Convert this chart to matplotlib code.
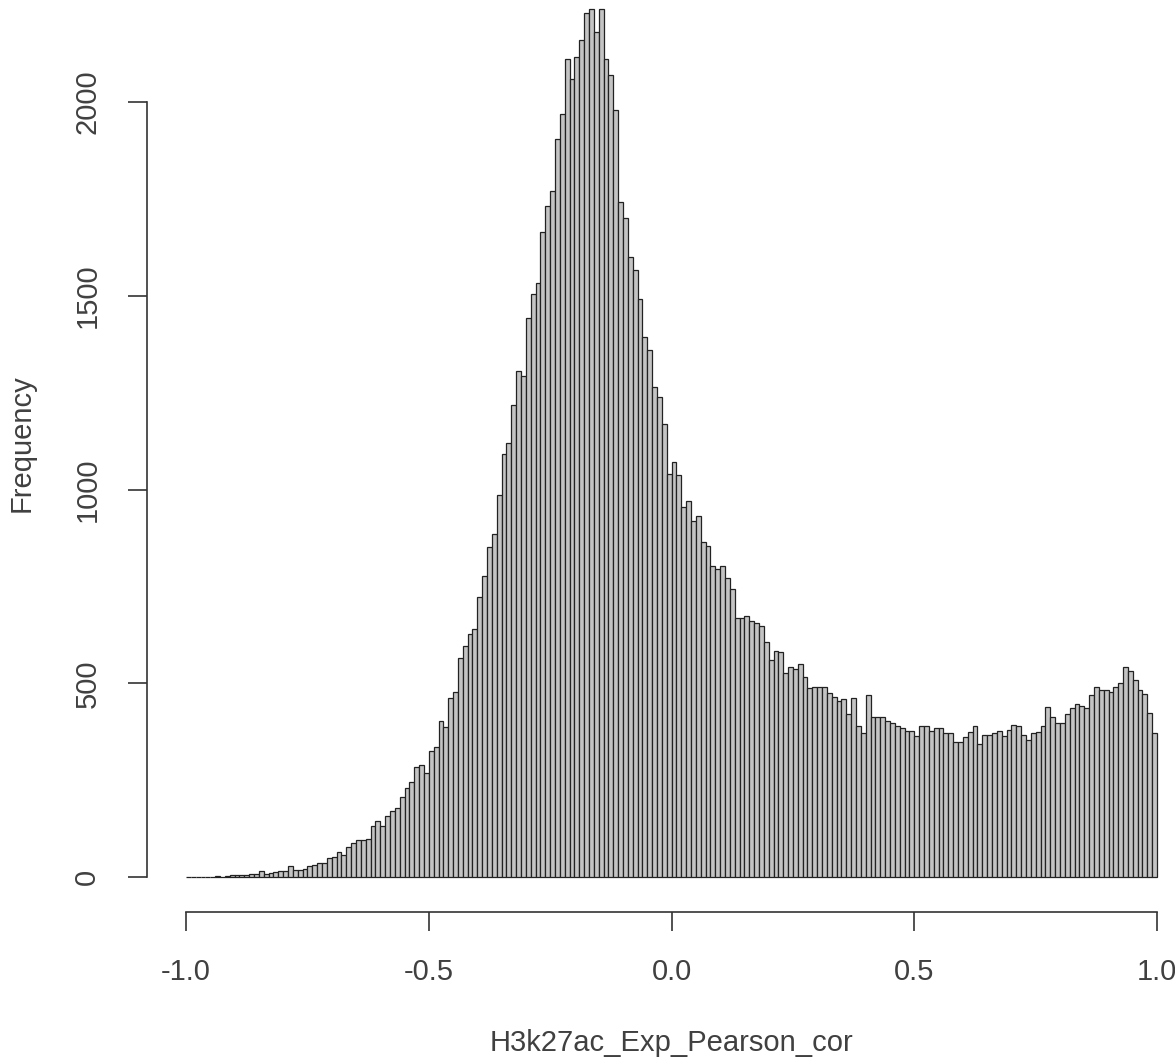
import numpy as np
import matplotlib.pyplot as plt

plt.rcParams['font.family'] = ['Liberation Sans', 'DejaVu Sans']

# counts per 0.01-wide bin, from -1.00 up to 1.00
bin_start = -1.0
bin_width = 0.01
counts = [
    0, 0, 0, 0, 1, 1, 2, 1, 2,
    5, 6, 5, 7, 8, 9, 15, 9, 10, 13,
    16, 17, 28, 20, 19, 22, 28, 31, 38, 36, 50, 53,
    65, 58, 79, 88, 96, 96, 98, 131, 146, 132, 158, 172, 180, 208,
    231, 246, 285, 289, 268, 326, 336, 403, 388, 462, 477, 565, 597, 627,
    640, 723, 777, 852, 885,
    986, 1093, 1121, 1219, 1305, 1293, 1442, 1505, 1533, 1666, 1732, 1770,
    1905, 1970, 2110, 2060, 2115, 2160, 2230, 2240, 2180, 2240, 2110, 2070,
    1980,
    1741, 1700, 1601, 1567, 1492, 1393, 1361, 1266, 1239, 1170, 1041, 1071,
    1038, 955, 972, 920, 933, 865, 855,
    803, 795, 803, 771, 744, 668, 668, 674, 661, 655, 647, 608, 560, 585,
    580, 526, 542, 537, 550, 516, 488, 490, 492, 490, 476, 466, 455, 460,
    420, 462, 389, 372, 470, 414, 414, 414, 402, 397, 389, 385, 378, 378,
    364, 389, 389, 378, 385, 385, 373, 372, 350, 350, 363, 375, 390, 345,
    366, 366,
    373, 378, 364, 380, 393, 389, 366, 355, 373, 375, 391, 438, 414, 399,
    399, 421, 436, 447, 442, 436, 470, 490, 483, 482, 478, 492, 502, 542,
    531, 509, 483, 473, 423, 372,
]
assert len(counts) == 200
breaks = bin_start + bin_width * np.arange(len(counts) + 1)

x_ticks = [-1.0, -0.5, 0.0, 0.5, 1.0]
x_tick_labels = ['-1.0', '-0.5', '0.0', '0.5', '1.0']
y_ticks = [0, 500, 1000, 1500, 2000]
y_tick_labels = ['0', '500', '1000', '1500', '2000']

W, H = 1175, 1060
ink = '#404040'

fig = plt.figure(figsize=(W / 100, H / 100), dpi=100)
# plot region (it spills past the top and right edges of the figure)
left, right, top, bottom = 147.2, 1195.9, -25.7, 912.0
ax = fig.add_axes([left / W, 1 - bottom / H, (right - left) / W, (bottom - top) / H])

ax.bar(breaks[:-1], counts, width=bin_width, align='edge',
       color='#c4c4c4', edgecolor='#222222', linewidth=0.9)

# R-style 4% padding around the data range
ymax = max(counts)
ax.set_xlim(-1.0 - 0.04 * 2.0, 1.0 + 0.04 * 2.0)
ax.set_ylim(-0.04 * ymax, 1.04 * ymax)

for side in ('top', 'right'):
    ax.spines[side].set_visible(False)
ax.spines['bottom'].set_bounds(x_ticks[0], x_ticks[-1])
ax.spines['left'].set_bounds(y_ticks[0], y_ticks[-1])
for side in ('bottom', 'left'):
    ax.spines[side].set_linewidth(1.2)
    ax.spines[side].set_color('#333333')

ax.set_xticks(x_ticks)
ax.set_xticklabels(x_tick_labels)
ax.set_yticks(y_ticks)
ax.set_yticklabels(y_tick_labels, rotation=90, va='center')
ax.tick_params(direction='out', length=14, width=1.2, color='#333333',
               labelcolor=ink, labelsize=21, pad=19)

fig.text(671 / W, 1 - 1043 / H, 'H3k27ac_Exp_Pearson_cor',
         ha='center', va='center', fontsize=21, color=ink)
fig.text(22 / W, 1 - 443 / H, 'Frequency', rotation=90,
         ha='center', va='center', fontsize=21, color=ink)

fig.savefig('out.png', dpi=100)
